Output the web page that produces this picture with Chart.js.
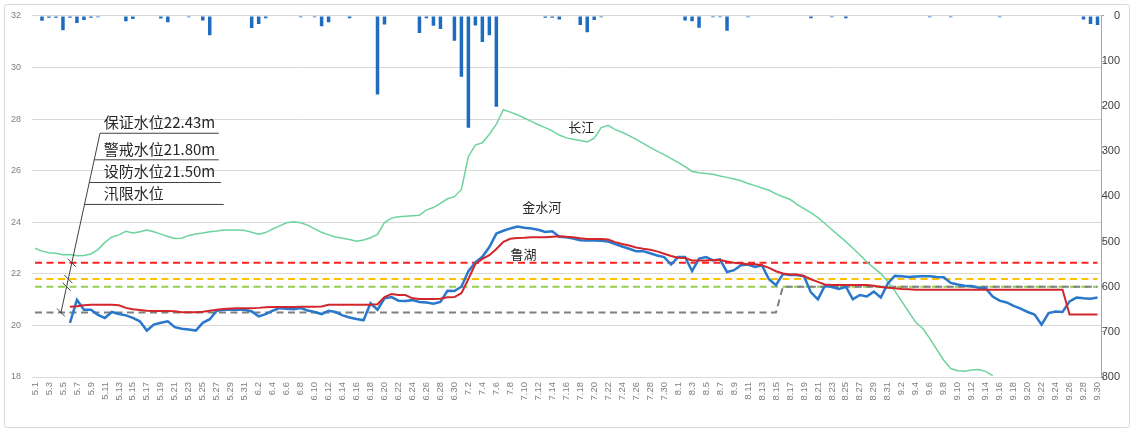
<!DOCTYPE html>
<html>
<head>
<meta charset="utf-8">
<script src="https://cdn.jsdelivr.net/npm/chart.js@4.4.1/dist/chart.umd.min.js"></script>
<style>
    html, body { margin:0; padding:0; background:#fff; }
    #frame { position:absolute; left:4px; top:4px; width:1124px; height:422px; border:1px solid #d9d9d9; border-radius:3px; }
    #levelChart { position:absolute; left:0; top:0; }
</style>
</head>
<body>
<div id="frame"></div>
<canvas id="levelChart" width="1131" height="430"></canvas>
<script>
// ==================== DATA ====================
const months = [5, 6, 7, 8, 9];
const monthDays = [31, 30, 31, 31, 30];
const days = [];
months.forEach((m, k) => { for (let d = 1; d <= monthDays[k]; d++) days.push(m + "." + d); });

// daily rainfall, right axis (reversed)
const rainfall = [
    // May
    0,11,4,4,32,4,16,9,4,3, 0,0,0,12,7,0,0,0,6,14, 0,0,3,0,10,43,0,0,0,0, 0,
    // June
    27,18,5,0,0,0,0,3,0,3, 23,14,0,0,5,0,0,0,174,19, 0,0,0,0,38,5,22,29,0,55,
    // July
    135,248,21,58,43,201,0,0,0,0, 0,0,4,4,8,0,0,20,36,9, 3,0,0,0,0,0,0,0,0,0, 0,
    // August
    0,10,12,26,0,3,3,33,0,0, 3,0,0,0,0,0,0,0,0,5, 0,0,3,0,5,0,0,0,0,0, 0,
    // September
    0,0,0,0,0,3,0,0,3,0, 0,0,0,0,0,3,0,0,0,0, 0,0,0,0,0,0,0,8,18,20
];

// 长江 water level
const changjiang = [
    22.99,22.88,22.82,22.80,22.74,22.75,22.70,22.71,22.77,22.94,
    23.22,23.43,23.51,23.65,23.58,23.63,23.70,23.63,23.54,23.45,
    23.37,23.38,23.49,23.54,23.58,23.63,23.66,23.70,23.70,23.70,
    23.68,
    23.61,23.54,23.60,23.74,23.86,23.98,24.02,23.98,23.89,23.74,
    23.61,23.51,23.43,23.38,23.33,23.26,23.31,23.40,23.53,23.99,
    24.16,24.21,24.23,24.25,24.27,24.48,24.57,24.73,24.91,24.99,
    25.27,26.55,26.99,27.08,27.41,27.80,28.36,28.27,28.17,28.04,
    27.91,27.78,27.67,27.54,27.38,27.27,27.22,27.17,27.11,27.26,
    27.67,27.76,27.59,27.49,27.36,27.21,27.06,26.90,26.76,26.62,
    26.47,
    26.32,26.16,25.97,25.92,25.89,25.86,25.79,25.74,25.68,25.61,
    25.50,25.42,25.33,25.24,25.10,24.99,24.89,24.69,24.53,24.37,
    24.18,23.95,23.71,23.48,23.25,22.99,22.74,22.46,22.23,22.01,
    21.69,
    21.34,20.93,20.52,20.12,19.88,19.50,19.07,18.65,18.33,18.24,
    18.22,18.27,18.29,18.22,18.05,null,null,null,null,null,
    null,null,null,null,null,null,null,null,null,null
];

// 金水河 water level
const jinshuihe = [
    null,null,null,null,null,20.10,20.99,20.61,20.61,20.41,
    20.29,20.52,20.44,20.39,20.29,20.16,19.80,20.03,20.10,20.16,
    19.93,19.87,19.84,19.80,20.10,20.24,20.57,20.61,20.61,20.61,
    20.61,
    20.54,20.35,20.44,20.57,20.67,20.65,20.63,20.67,20.58,20.52,
    20.44,20.57,20.52,20.39,20.31,20.25,20.20,20.86,20.61,21.05,
    21.10,20.96,20.95,20.98,20.91,20.89,20.84,20.91,21.34,21.33,
    21.50,22.10,22.44,22.66,23.04,23.56,23.67,23.76,23.83,23.79,
    23.76,23.71,23.62,23.65,23.44,23.42,23.37,23.30,23.29,23.29,
    23.28,23.25,23.15,23.06,22.97,22.88,22.88,22.80,22.71,22.65,
    22.36,
    22.65,22.65,22.11,22.59,22.65,22.52,22.56,22.07,22.14,22.33,
    22.36,22.27,22.33,21.79,21.56,21.99,21.95,21.95,21.91,21.28,
    21.01,21.54,21.49,21.41,21.50,21.01,21.18,21.12,21.31,21.08,
    21.63,
    21.92,21.91,21.88,21.90,21.91,21.91,21.88,21.87,21.65,21.59,
    21.54,21.53,21.46,21.44,21.12,20.96,20.89,20.76,20.65,20.52,
    20.42,20.03,20.48,20.54,20.52,20.93,21.08,21.05,21.03,21.08
];

// 鲁湖 water level
const luhu = [
    null,null,null,null,null,20.72,20.74,20.78,20.80,20.80,
    20.80,20.80,20.78,20.68,20.63,20.60,20.57,20.56,20.56,20.56,
    20.55,20.51,20.51,20.51,20.53,20.57,20.61,20.64,20.66,20.67,
    20.67,
    20.67,20.68,20.70,20.71,20.71,20.71,20.71,20.72,20.72,20.72,
    20.73,20.80,20.80,20.80,20.80,20.80,20.80,20.80,20.82,21.10,
    21.22,21.18,21.18,21.05,21.02,21.02,21.02,21.03,21.09,21.10,
    21.25,21.80,22.38,22.58,22.72,22.96,23.24,23.36,23.39,23.40,
    23.42,23.42,23.42,23.44,23.46,23.44,23.42,23.38,23.35,23.35,
    23.35,23.33,23.23,23.16,23.10,23.02,22.97,22.93,22.87,22.78,
    22.69,
    22.62,22.61,22.52,22.52,22.52,22.54,22.54,22.48,22.43,22.40,
    22.37,22.37,22.33,22.23,22.10,22.01,21.97,21.97,21.92,21.79,
    21.69,21.59,21.57,21.57,21.57,21.57,21.57,21.57,21.54,21.49,
    21.46,
    21.44,21.41,21.40,21.38,21.38,21.38,21.38,21.38,21.38,21.38,
    21.38,21.38,21.38,21.38,21.38,21.38,21.38,21.38,21.38,21.38,
    21.38,21.38,21.38,21.38,21.38,20.42,20.42,20.42,20.42,20.42
];

// reference levels
const levelNames = ["保证水位22.43m", "警戒水位21.80m", "设防水位21.50m", "汛限水位"];
const levelValues = [22.43, 21.80, 21.50];
const levelColors = ["#ff2020", "#ffc000", "#92d050"];
const floodLimitDays = ["5.1", "8.15", "8.16", "9.30"];
const floodLimitValues = [20.5, 20.5, 21.5, 21.5];

// ==================== ANNOTATIONS ====================
const notesPlugin = {
    id: "notes",
    afterDatasetsDraw(chart){
        const {ctx, scales:{x, y}} = chart;
        const px = i => x.getPixelForValue(i);
        const py = v => y.getPixelForValue(v);

        // leader line from the label block down to the level lines
        const top = {x: px(9.3), y: py(27.45)};
        const bot = {x: px(3.7), y: py(20.48)};
        const onLeader = yy => top.x + (bot.x - top.x) * (yy - top.y) / (bot.y - top.y);

        ctx.save();
        ctx.strokeStyle = "#404040";
        ctx.lineWidth = 1;
        ctx.beginPath();
        ctx.moveTo(top.x, top.y);
        ctx.lineTo(bot.x, bot.y);
        ctx.stroke();

        // underlines + texts
        const lineAt = [27.45, 26.42, 25.54, 24.69];
        const lineEnd = [26.3, 26.3, 26.6, 27.0];
        ctx.font = '15px "Noto Sans CJK SC"';
        ctx.fillStyle = "#262626";
        ctx.textAlign = "left";
        ctx.textBaseline = "middle";
        levelNames.forEach((t, k) => {
            const yy = py(lineAt[k]);
            ctx.beginPath();
            ctx.moveTo(onLeader(yy), yy);
            ctx.lineTo(px(lineEnd[k]), yy);
            ctx.stroke();
            ctx.fillText(t, px(9.85), yy - 11);
        });

        // small ticks where the leader meets each level
        [...levelValues, floodLimitValues[0]].forEach(v => {
            const cy = py(v), cx = onLeader(cy);
            ctx.beginPath();
            ctx.moveTo(cx - 4, cy - 4);
            ctx.lineTo(cx + 4, cy + 4);
            ctx.stroke();
        });

        // series names
        ctx.font = '13px "Noto Sans CJK SC"';
        ctx.textAlign = "center";
        ctx.fillText("长江", px(78.15), py(27.68));
        ctx.fillText("金水河", px(72.5), py(24.58));
        ctx.fillText("鲁湖", px(69.9), py(22.75));
        ctx.restore();
    }
};

// ==================== CHART ====================
function levelLine(value, color){
    return {
        type: "line",
        data: [{x: days[0], y: value}, {x: days[days.length - 1], y: value}],
        borderColor: color,
        borderWidth: 2,
        borderDash: [7, 4.5],
        pointRadius: 0,
        order: 6
    };
}

function initChart(){
    Chart.defaults.font.family = "'Liberation Sans', Arial, sans-serif";
    const ctx = document.getElementById("levelChart").getContext("2d");
    new Chart(ctx, {
        type: "bar",
        data: {
            labels: days,
            datasets: [
                {
                    type: "bar",
                    data: rainfall,
                    yAxisID: "y2",
                    backgroundColor: "#1f6bc0",
                    barPercentage: 0.5,
                    categoryPercentage: 1,
                    order: 10
                },
                ...levelValues.map((v, k) => levelLine(v, levelColors[k])),
                {
                    type: "line",
                    data: floodLimitDays.map((d, k) => ({x: d, y: floodLimitValues[k]})),
                    borderColor: "#7f7f7f",
                    borderWidth: 2,
                    borderDash: [7, 4.5],
                    pointRadius: 0,
                    order: 5
                },
                { type: "line", data: changjiang, borderColor: "#6dd39d", borderWidth: 1.5, pointRadius: 0, order: 3 },
                { type: "line", data: jinshuihe, borderColor: "#2a78cc", borderWidth: 2.5, pointRadius: 0, order: 2 },
                { type: "line", data: luhu, borderColor: "#d2262c", borderWidth: 2, pointRadius: 0, order: 1 }
            ]
        },
        options: {
            responsive: false,
            animation: false,
            layout: { padding: { top: 12, left: 0, right: 11, bottom: 0 } },
            plugins: { legend: { display: false }, tooltip: { enabled: false } },
            scales: {
                x: {
                    grid: { display: false, drawTicks: false },
                    border: { display: false },
                    ticks: {
                        autoSkip: false, maxRotation: 90, minRotation: 90, padding: 5,
                        color: "#7f7f7f", font: { size: 9.5 },
                        callback(v, i){ return i % 2 === 0 ? this.getLabelForValue(v) : ""; }
                    },
                    afterFit(s){ s.height = 53; }
                },
                y: {
                    position: "left", min: 18, max: 32,
                    ticks: { stepSize: 2, padding: 10.5, color: "#7f7f7f", font: { size: 9 } },
                    grid: { color: "#d9d9d9", drawTicks: false },
                    border: { display: false },
                    afterFit(s){ s.width = 31.5; }
                },
                y2: {
                    position: "right", reverse: true, min: 0, max: 800,
                    ticks: { stepSize: 100, crossAlign: "far", color: "#404040", font: { size: 11 } },
                    grid: { drawOnChartArea: false, tickLength: 3, color: "#a6a6a6" },
                    border: { color: "#a6a6a6" },
                    afterFit(s){ s.width = 19; }
                }
            }
        },
        plugins: [notesPlugin]
    });
}

window.addEventListener("load", initChart);
</script>
</body>
</html>
